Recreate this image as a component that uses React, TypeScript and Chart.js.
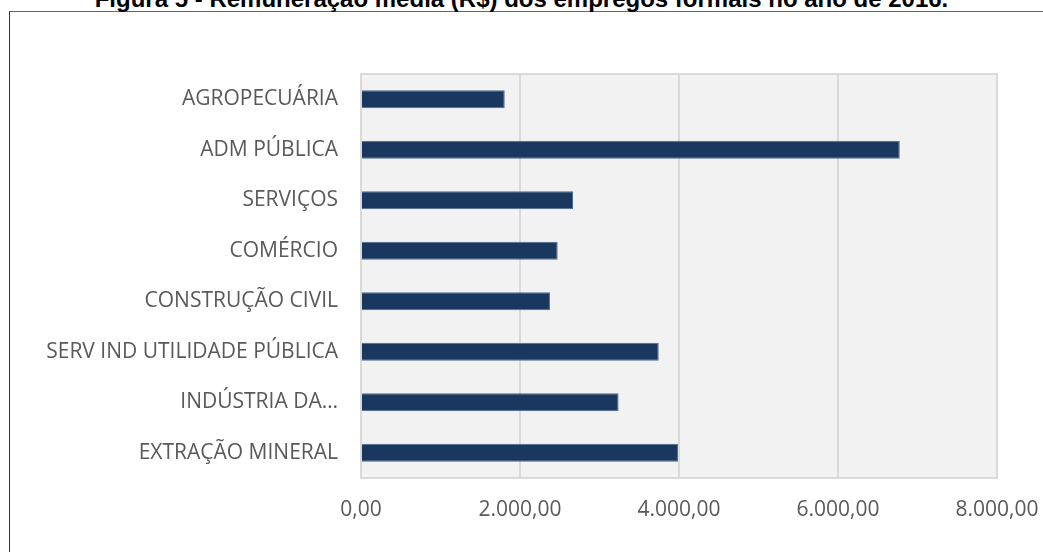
import React, { useEffect, useRef } from "react";
import { Chart, registerables } from "chart.js";

Chart.register(...registerables);

const title = "Figura 5 - Remuneração média (R$) dos empregos formais no ano de 2016.";
const categories = [
  "AGROPECUÁRIA",
  "ADM PÚBLICA",
  "SERVIÇOS",
  "COMÉRCIO",
  "CONSTRUÇÃO CIVIL",
  "SERV IND UTILIDADE PÚBLICA",
  "INDÚSTRIA DA…",
  "EXTRAÇÃO MINERAL",
];
const values = [1808, 6777, 2667, 2474, 2377, 3745, 3240, 3988];
const xTicks = [0, 2000, 4000, 6000, 8000];

const fmt = (v: number) => {
  const n = Math.round(Number(v));
  const s = String(Math.abs(n)).replace(/\B(?=(\d{3})+(?!\d))/g, ".");
  return (n < 0 ? "-" : "") + s + ",00";
};

const GRID = "#d9d9d9";
const LABEL = "#595959";
const FONT = "'Open Sans', 'Noto Sans', sans-serif";

const plotBg = {
  id: "plotBg",
  beforeDraw(chart: any) {
    const { ctx, chartArea: a } = chart;
    ctx.save();
    ctx.fillStyle = "#f2f2f2";
    ctx.fillRect(a.left, a.top, a.right - a.left, a.bottom - a.top);
    ctx.strokeStyle = GRID;
    ctx.lineWidth = 2;
    ctx.strokeRect(a.left, a.top, a.right - a.left, a.bottom - a.top);
    ctx.restore();
  },
};

export default function App() {
  const ref = useRef<HTMLCanvasElement | null>(null);

  useEffect(() => {
    if (!ref.current) return;
    const chart = new Chart(ref.current, {
      type: "bar",
      data: {
        labels: categories,
        datasets: [
          {
            data: values,
            backgroundColor: "#1a375f",
            borderColor: "#4d6a91",
            borderWidth: 1,
            barPercentage: 0.36,
            categoryPercentage: 1,
          },
        ],
      },
      options: {
        indexAxis: "y",
        animation: false,
        responsive: false,
        maintainAspectRatio: false,
        layout: { padding: { top: 74, right: 46, left: 0, bottom: 0 } },
        plugins: {
          legend: { display: false },
          tooltip: { enabled: false },
          title: { display: false },
        },
        scales: {
          x: {
            min: 0,
            max: 8000,
            afterBuildTicks: (s: any) => {
              s.ticks = xTicks.map((v) => ({ value: v }));
            },
            afterFit: (s: any) => {
              s.height = 74;
              s.paddingLeft = 0;
              s.paddingRight = 0;
            },
            grid: { color: GRID, lineWidth: 2, drawTicks: false },
            border: { display: false },
            ticks: {
              padding: 19,
              color: LABEL,
              maxRotation: 0,
              font: { family: FONT, size: 21 },
              callback: (v: any) => fmt(v),
            },
          },
          y: {
            afterFit: (s: any) => {
              s.width = 361;
              s.paddingTop = 0;
              s.paddingBottom = 0;
            },
            grid: { display: false, drawTicks: false },
            border: { display: false },
            ticks: {
              padding: 23,
              color: LABEL,
              autoSkip: false,
              font: { family: FONT, size: 21 },
            },
          },
        },
      },
      plugins: [plotBg],
    } as any);
    return () => chart.destroy();
  }, []);

  return (
    <div
      style={{
        position: "fixed",
        left: 0,
        top: 0,
        width: 1043,
        height: 552,
        overflow: "hidden",
        background: "#fff",
      }}
    >
      <div
        style={{
          position: "absolute",
          left: 9,
          top: 11,
          right: -10,
          bottom: -10,
          borderLeft: "1px solid #333",
          borderTop: "1px solid #666",
        }}
      />
      <div
        style={{
          position: "absolute",
          left: 0,
          top: -13,
          width: 1043,
          textAlign: "center",
          fontFamily: "'Liberation Sans', Arial, sans-serif",
          fontWeight: "bold",
          fontSize: 24,
          lineHeight: "24px",
          color: "#000",
          whiteSpace: "nowrap",
        }}
      >
        {title}
      </div>
      <canvas
        ref={ref}
        width={1043}
        height={552}
        style={{ position: "absolute", left: 0, top: 0, width: 1043, height: 552 }}
      />
    </div>
  );
}
